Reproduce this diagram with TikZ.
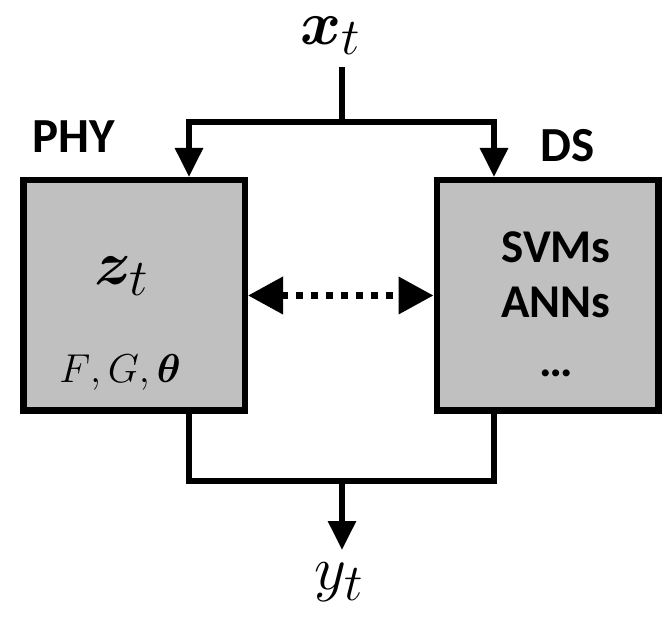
\documentclass[tikz,border=0pt]{standalone}
\usepackage{amsmath}
\usepackage{bm}
\usepackage{fontspec}
\setmainfont{Carlito}
\usepackage{xcolor}
\usetikzlibrary{arrows.meta,positioning}

\definecolor{boxgray}{HTML}{C0C0C0}

\begin{document}
\begin{tikzpicture}[
    x=1pt, y=-1pt,
    block/.style={draw, fill=boxgray, line width=6.5pt, minimum width=221.5pt,
        minimum height=230.5pt, inner sep=0pt},
    wire/.style={line width=6pt},
    arrow/.style={wire, -{Triangle[width=27pt,length=29pt]}},
    dotarrow/.style={line width=7pt, dash pattern=on 7pt off 8pt,
        {Triangle[width=36pt,length=35pt]}-{Triangle[width=36pt,length=35pt]}},
    tag/.style={font=\fontsize{49}{57}\selectfont\bfseries, inner sep=0pt},
    mathlabel/.style={font=\Huge, scale=2.5, inner sep=0pt}
]
\useasboundingbox (0,0) rectangle (667,617);
\node[block] (phy) at (134,295.5) {};
\node[block] (ds) at (547.5,295.5) {};
\node[tag, anchor=base] (phylabel) at (74,153) {PHY};
\node[tag, anchor=base] (dslabel) at (568,162) {DS};
% inside the boxes
\node[mathlabel] (state) at (122,276) {$\bm{z}_t$};
\node[font=\Huge, scale=1.62, inner sep=0pt] (params) at (120,372) {$F{,}\,G{,}\,\bm{\theta}$};
\node[tag, align=center, font=\fontsize{47}{55}\selectfont\bfseries] (methods) at (556,275) {SVMs\\ANNs};
\node[tag, font=\fontsize{47}{55}\selectfont\bfseries] (more) at (556,373) {…};
% input and output
\coordinate (split) at (342,122);
\coordinate (join) at (342,481);
\node[mathlabel, anchor=south] (xt) at (331,55) {$\bm{x}_t$};
\node[mathlabel, anchor=north, inner sep=5pt] (yt) at (339,550) {$y_t$};
\draw[wire, shorten <=12pt] (xt.south -| split) -- (split);
\draw[arrow] (split) -| ([xshift=55pt]phy.north);
\draw[arrow] (split) -| ([xshift=-53.5pt]ds.north);
\draw[wire] ([xshift=55pt]phy.south) |- (join) -| ([xshift=-53.5pt]ds.south);
\draw[arrow] (join) -- (join |- yt.north);
\draw[dotarrow] (phy.east) -- (ds.west);
\end{tikzpicture}
\end{document}
